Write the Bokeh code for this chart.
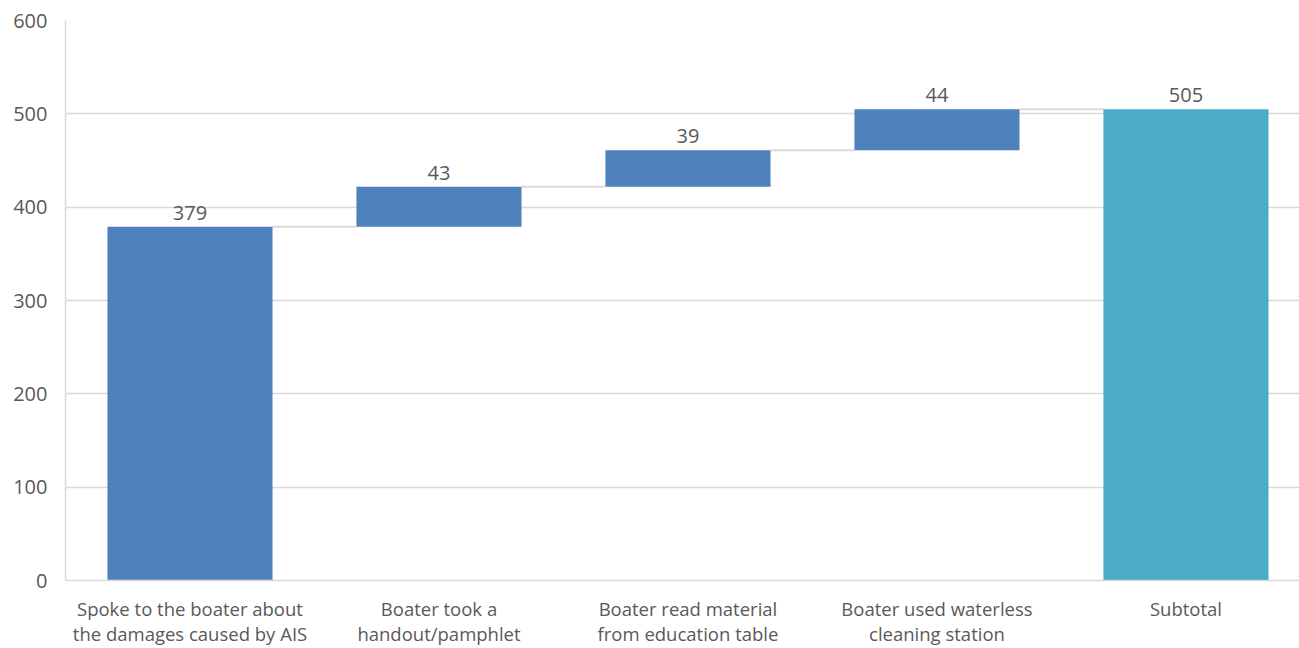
from bokeh.plotting import figure
from bokeh.models import ColumnDataSource, FixedTicker, Range1d
from bokeh.core.properties import value
from bokeh.embed import file_html
from bokeh.resources import INLINE

categories = [
    "Spoke to the boater about\nthe damages caused by AIS",
    "Boater took a\nhandout/pamphlet",
    "Boater read material\nfrom education table",
    "Boater used waterless\ncleaning station",
    "Subtotal",
]
increments = [379, 43, 39, 44]
subtotal = 505
y_ticks = [0, 100, 200, 300, 400, 500, 600]

FONT = "Open Sans"
TXT = "#595959"
GRID = "#D9D9D9"

xs = list(range(len(categories)))
bottoms, tops = [], []
run = 0
for v in increments:
    bottoms.append(run)
    run += v
    tops.append(run)
bottoms.append(0)
tops.append(subtotal)
labels = [str(v) for v in increments] + [str(subtotal)]
colors = ["#4F81BD"] * len(increments) + ["#4BACC6"]

src = ColumnDataSource(dict(x=xs, bottom=bottoms, top=tops, label=labels, color=colors))

p = figure(width=1299, height=648, output_backend="svg", toolbar_location=None,
           x_range=Range1d(-0.5, 4.456), y_range=Range1d(0, 600),
           min_border_left=65, min_border_right=0, min_border_top=20, min_border_bottom=67)
p.outline_line_color = None
p.background_fill_color = "white"
p.border_fill_color = "white"

p.xgrid.visible = False
p.ygrid.ticker = FixedTicker(ticks=y_ticks)
p.ygrid.grid_line_color = GRID
p.ygrid.grid_line_width = 1.5

W = 0.663
# connectors
cx0, cx1, cy = [], [], []
for i in range(len(categories) - 1):
    cx0.append(xs[i] + W / 2)
    cx1.append(xs[i + 1] - W / 2)
    cy.append(tops[i])
p.segment(x0=cx0, y0=cy, x1=cx1, y1=cy, line_color=GRID, line_width=2)

p.vbar(x="x", bottom="bottom", top="top", width=W, fill_color="color", line_color=None, source=src)

p.text(x="x", y="top", text="label", source=src, text_align="center", text_baseline="bottom",
       y_offset=-7, text_font=value(FONT), text_font_size="20px", text_color=TXT)

p.yaxis.ticker = FixedTicker(ticks=y_ticks)
p.yaxis.axis_line_color = GRID
p.yaxis.axis_line_width = 1.5
p.yaxis.major_tick_line_color = None
p.yaxis.minor_tick_line_color = None
p.yaxis.major_label_standoff = 12
p.yaxis.major_label_text_font = FONT
p.yaxis.major_label_text_font_size = "20px"
p.yaxis.major_label_text_color = TXT

p.xaxis.ticker = FixedTicker(ticks=xs)
p.xaxis.major_label_overrides = {i: c for i, c in zip(xs, categories)}
p.xaxis.axis_line_color = GRID
p.xaxis.axis_line_width = 1.5
p.xaxis.major_tick_line_color = None
p.xaxis.minor_tick_line_color = None
p.xaxis.major_label_standoff = 9
p.xaxis.major_label_text_font = FONT
p.xaxis.major_label_text_font_size = "18.5px"
p.xaxis.major_label_text_color = TXT
p.xaxis.major_label_text_line_height = 1.0

open("out.html", "w").write(file_html(p, INLINE))
